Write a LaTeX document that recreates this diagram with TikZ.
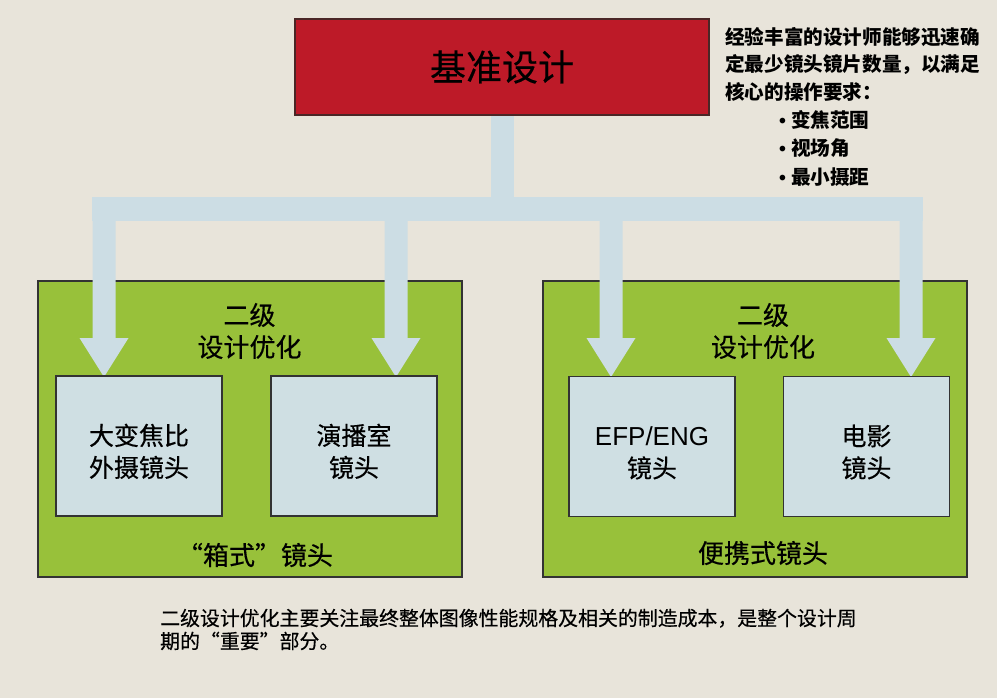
\documentclass[tikz,border=0pt]{standalone}
\usepackage{fontspec}
\setmainfont{Noto Sans CJK SC}
\newfontfamily\medf[FakeBold=0.4]{Noto Sans CJK SC}
\newfontfamily\lat{Liberation Sans}
\usetikzlibrary{calc}
\definecolor{bgc}{HTML}{E8E4DA}
\definecolor{redc}{HTML}{BD1A28}
\definecolor{redb}{HTML}{4A2626}
\definecolor{greenc}{HTML}{98C13A}
\definecolor{edgec}{HTML}{333333}
\definecolor{boxc}{HTML}{CFDFE3}
\definecolor{flowc}{HTML}{CCDDE4}
\tikzset{
  titlebox/.style={fill=redc, draw=redb, line width=1.2pt, minimum width=414pt, minimum height=96pt, inner sep=0pt, font=\medf\fontsize{36}{40}\selectfont},
  group/.style={fill=greenc, draw=edgec, line width=1.3pt, minimum width=424pt, minimum height=296pt, inner sep=0pt},
  lensbox/.style={fill=boxc, draw=edgec, line width=1.6pt, minimum width=166pt, minimum height=140pt, inner sep=0pt, align=center, font=\medf\fontsize{25}{32}\selectfont},
  glabel/.style={inner sep=0pt, align=center, font=\medf\fontsize{26}{32}\selectfont},
  note/.style={inner sep=0pt, anchor=west, font=\bfseries\fontsize{19.6}{28}\selectfont},
  caption/.style={inner sep=0pt, anchor=west, align=left, font=\medf\fontsize{19.9}{23}\selectfont},
  flow/.style={fill=flowc}
}
\newcommand{\upstrut}{\rule{0pt}{32pt}}
\begin{document}
\begin{tikzpicture}[x=1pt,y=-1pt]
\fill[bgc] (0,0) rectangle (997,698);
\useasboundingbox (0,0) rectangle (997,698);

\node[titlebox] (title) at (502,67) {\rule{0pt}{30pt}基准设计};

\node[group] (gL) at (250,429) {};
\node[group] (gR) at (755,429) {};

% arrow tips
\coordinate (tA) at (104,377);
\coordinate (tB) at (396,377);
\coordinate (tC) at (611,377);
\coordinate (tD) at (911,377);

% block arrows
\fill[flow] ($(title.south)+(-11.5,0)$) rectangle ($(title.south)+(11.5,84)$);
\fill[flow] (92,197) rectangle (923,221);
\foreach \t in {tA,tB,tC,tD}{
  \fill[flow] (\t) -- ++(-24.5,-39) -- ++(13,0) -- ++(0,-140) -- ++(23,0) -- ++(0,140) -- ++(13,0) -- cycle;
}

\node[lensbox] (bA) at (139,446) {\upstrut 大变焦比\\外摄镜头};
\node[lensbox] (bB) at (354,446) {\upstrut 演播室\\镜头};
\node[lensbox] (bC) at (652,446.5) {\upstrut{\lat\fontsize{26}{32}\selectfont EFP/ENG}\\镜头};
\node[lensbox] (bD) at (866.5,446.5) {\upstrut 电影\\镜头};

\node[glabel] (hL) at (249.5,331) {二级\\设计优化};
\node[glabel] (hR) at (763,331) {二级\\设计优化};
\node[glabel] (fL) at (255,555) {“箱式”镜头};
\node[glabel] (fR) at (763,553) {便携式镜头};

\node[note] (n1) at (725,37) {经验丰富的设计师能够迅速确};
\node[note] (n2) at (725,65) {定最少镜头镜片数量，以满足};
\node[note] (n3) at (725,92) {核心的操作要求：};
\node[note] (n4) at (779,120) {{\lat\bfseries •}\hspace{5pt}变焦范围};
\node[note] (n5) at (779,148) {{\lat\bfseries •}\hspace{5pt}视场角};
\node[note] (n6) at (779,177) {{\lat\bfseries •}\hspace{5pt}最小摄距};

\node[caption] (cap) at (160,629.5) {二级设计优化主要关注最终整体图像性能规格及相关的制造成本，是整个设计周\\期的“重要”部分。};
\end{tikzpicture}
\end{document}
